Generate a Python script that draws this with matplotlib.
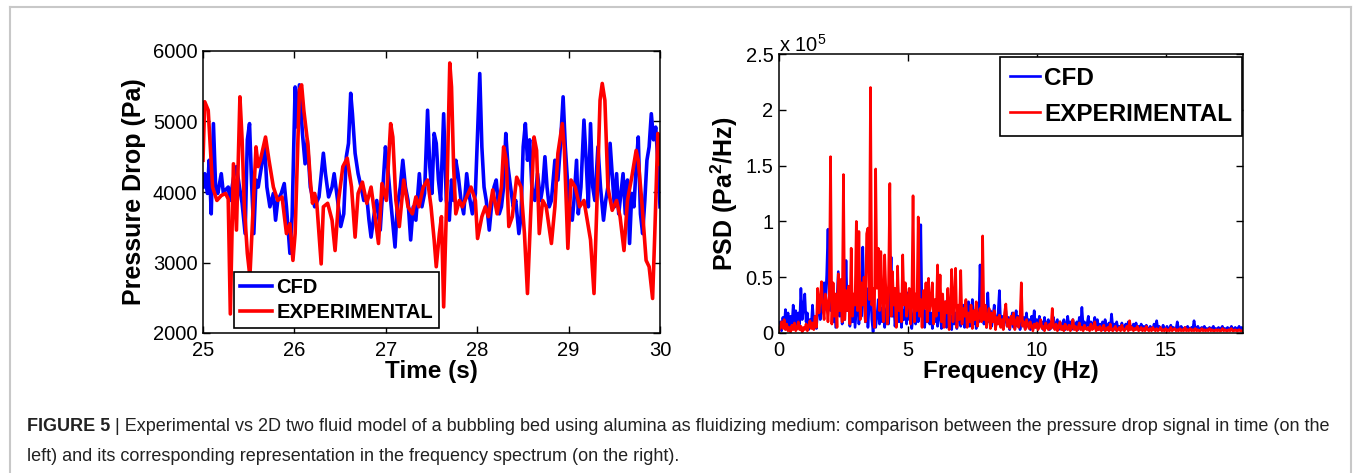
import numpy as np
import matplotlib
matplotlib.use("Agg")
import matplotlib.pyplot as plt
from matplotlib.lines import Line2D
from matplotlib.ticker import FuncFormatter

plt.rcParams['font.family'] = ['Liberation Sans', 'DejaVu Sans']
plt.rcParams['mathtext.fontset'] = 'custom'
plt.rcParams['mathtext.rm'] = 'Liberation Sans'
plt.rcParams['mathtext.bf'] = 'Liberation Sans:bold'

# pressure drop signal (time in s, value in Pa)
cfd_t = [25.000, 25.019, 25.048, 25.067, 25.090, 25.114, 25.138, 25.162, 25.200, 25.223,
         25.247, 25.276, 25.295, 25.342, 25.366, 25.399, 25.428, 25.461, 25.485, 25.509,
         25.532, 25.556, 25.580, 25.604, 25.627, 25.675, 25.699, 25.732, 25.770, 25.794,
         25.818, 25.856, 25.889, 25.913, 25.951, 25.975, 26.008, 26.032, 26.055, 26.088,
         26.117, 26.141, 26.174, 26.222, 26.269, 26.317, 26.340, 26.374, 26.412, 26.435,
         26.473, 26.507, 26.540, 26.568, 26.592, 26.616, 26.635, 26.664, 26.697, 26.730,
         26.759, 26.792, 26.816, 26.839, 26.873, 26.901, 26.939, 26.968, 26.996, 27.020,
         27.053, 27.101, 27.125, 27.158, 27.186, 27.215, 27.243, 27.272, 27.300, 27.329,
         27.367, 27.395, 27.424, 27.457, 27.481, 27.505, 27.529, 27.552, 27.576, 27.600,
         27.633, 27.662, 27.695, 27.719, 27.742, 27.766, 27.790, 27.823, 27.852, 27.885,
         27.909, 27.947, 27.980, 28.004, 28.028, 28.051, 28.075, 28.099, 28.132, 28.156,
         28.184, 28.208, 28.241, 28.265, 28.289, 28.313, 28.337, 28.365, 28.394, 28.422,
         28.456, 28.479, 28.503, 28.527, 28.550, 28.574, 28.598, 28.631, 28.660, 28.693,
         28.717, 28.741, 28.764, 28.788, 28.812, 28.850, 28.883, 28.907, 28.940, 28.964,
         28.992, 29.011, 29.040, 29.059, 29.087, 29.106, 29.135, 29.168, 29.192, 29.216,
         29.240, 29.264, 29.287, 29.321, 29.349, 29.382, 29.406, 29.430, 29.454, 29.477,
         29.501, 29.525, 29.548, 29.572, 29.596, 29.620, 29.644, 29.667, 29.691, 29.715,
         29.739, 29.762, 29.786, 29.810, 29.834, 29.857, 29.881, 29.905, 29.929, 29.953,
         29.976, 30.000]
cfd_p = [4070, 4260, 3980, 4450, 3690, 4970, 4070, 3980, 4260, 3980,
         4030, 4070, 3880, 4260, 4360, 4070, 3840, 3410, 4740, 4970,
         4120, 3410, 4170, 4070, 4260, 4640, 4070, 3790, 3980, 3600,
         3880, 3980, 4120, 3790, 3130, 3650, 5490, 4920, 5520, 4830,
         4400, 4740, 4070, 3790, 3930, 4550, 4260, 3930, 4070, 4260,
         3880, 3510, 3690, 4500, 4690, 5400, 5110, 4550, 4260, 4070,
         3880, 3930, 3600, 3360, 3690, 3880, 3460, 4070, 4640, 4360,
         3880, 3220, 3790, 4070, 4450, 4070, 3880, 3320, 3790, 3600,
         4260, 3790, 3980, 5160, 4360, 3980, 4830, 4690, 4170, 3880,
         5110, 3880, 3600, 4170, 3880, 4450, 4260, 3880, 3690, 4260,
         3980, 3690, 3980, 4830, 5680, 4640, 4070, 3880, 3460, 3790,
         4070, 4170, 3690, 3790, 4070, 4830, 4360, 4070, 3790, 3880,
         3410, 3650, 4640, 4970, 4450, 4740, 4070, 3880, 4260, 3880,
         4070, 4500, 4070, 3790, 3880, 4450, 4170, 4590, 5350, 4640,
         4070, 3790, 3600, 3880, 4450, 3690, 4070, 5020, 4450, 3790,
         4970, 4070, 3880, 4640, 4070, 3600, 3880, 4070, 4690, 4260,
         3790, 4260, 3690, 3980, 4260, 3690, 4170, 3270, 3980, 3790,
         4360, 4780, 3690, 3410, 3880, 4450, 4640, 5110, 4740, 4920,
         4450, 3790]

exp_t = [25.000, 25.019, 25.057, 25.105, 25.152, 25.200, 25.247, 25.276, 25.299, 25.333,
         25.366, 25.404, 25.428, 25.452, 25.485, 25.513, 25.580, 25.604, 25.627, 25.684,
         25.722, 25.770, 25.818, 25.865, 25.913, 25.951, 25.984, 26.008, 26.055, 26.079,
         26.103, 26.150, 26.174, 26.198, 26.222, 26.245, 26.293, 26.317, 26.364, 26.412,
         26.445, 26.483, 26.530, 26.578, 26.625, 26.664, 26.697, 26.744, 26.792, 26.839,
         26.873, 26.920, 26.958, 27.006, 27.053, 27.077, 27.110, 27.148, 27.196, 27.243,
         27.291, 27.329, 27.362, 27.410, 27.457, 27.495, 27.529, 27.552, 27.586, 27.609,
         27.633, 27.671, 27.700, 27.719, 27.742, 27.766, 27.804, 27.837, 27.885, 27.932,
         27.980, 28.004, 28.051, 28.089, 28.123, 28.170, 28.218, 28.265, 28.289, 28.318,
         28.346, 28.384, 28.432, 28.479, 28.517, 28.550, 28.584, 28.622, 28.650, 28.679,
         28.717, 28.755, 28.812, 28.850, 28.883, 28.931, 28.954, 28.992, 29.026, 29.073,
         29.121, 29.168, 29.240, 29.278, 29.311, 29.344, 29.368, 29.397, 29.430, 29.477,
         29.525, 29.563, 29.606, 29.644, 29.691, 29.739, 29.762, 29.800, 29.848, 29.881,
         29.919, 29.943, 29.976, 30.000]
exp_p = [4450, 5280, 5160, 4070, 3880, 3950, 3980, 3900, 2270, 4400,
         3460, 5350, 4740, 3790, 3130, 2800, 4640, 4360, 4450, 4780,
         4450, 4070, 3880, 3930, 3410, 3550, 3030, 3410, 5450, 5520,
         5160, 4640, 4170, 3840, 3980, 3840, 2980, 3790, 3840, 3600,
         3170, 3880, 4360, 4480, 4070, 3360, 3980, 4140, 3840, 4070,
         3740, 3270, 4120, 3880, 4970, 4780, 3880, 3510, 4170, 3790,
         3690, 3930, 3790, 4070, 4170, 3790, 3320, 2940, 3410, 3650,
         2370, 4120, 5830, 5490, 4360, 3690, 3880, 3790, 3930, 4070,
         3880, 3340, 3650, 3790, 3650, 4030, 3690, 4070, 4640, 4450,
         3510, 3650, 4210, 4070, 3410, 2560, 3650, 4780, 4590, 3410,
         3880, 3790, 3270, 3790, 4550, 4970, 4590, 3200, 4170, 4070,
         3790, 3880, 3320, 2560, 3880, 5300, 5540, 5300, 4070, 3740,
         3880, 3650, 3170, 3880, 4210, 4590, 4450, 3880, 3030, 2940,
         2490, 3410, 4830, 4400]

# power spectral density, 0.05 Hz bins from 0 to 18 Hz, in 1000 Pa^2/Hz
freq = np.arange(361) * 0.05
cfd_psd = [3, 10, 2, 14, 5, 21, 8, 18, 3, 15, 6, 25, 10, 20, 4, 18, 8, 40, 12, 22,
           35, 10, 18, 3, 12, 6, 25, 8, 15, 4, 20, 30, 12, 38, 20, 45, 25, 52, 93, 30,
           20, 40, 10, 35, 5, 30, 55, 15, 38, 8, 30, 12, 65, 20, 35, 6, 25, 10, 30, 5,
           20, 35, 8, 28, 15, 77, 30, 10, 40, 5, 25, 59, 12, 1, 20, 5, 15, 30, 8, 22,
           10, 35, 5, 18, 25, 8, 30, 68, 15, 28, 6, 20, 47, 10, 30, 5, 20, 12, 35, 8,
           36, 12, 22, 4, 15, 25, 8, 30, 10, 20, 97, 15, 28, 5, 20, 10, 32, 8, 18, 4,
           22, 10, 30, 6, 15, 25, 4, 18, 12, 28, 5, 20, 10, 15, 3, 22, 8, 18, 4, 14,
           20, 6, 15, 25, 5, 18, 10, 28, 6, 15, 30, 8, 20, 4, 15, 10, 61, 12, 20, 8,
           15, 5, 36, 10, 20, 6, 15, 25, 5, 12, 18, 38, 8, 15, 4, 12, 20, 6, 14, 3,
           10, 18, 5, 12, 20, 6, 15, 3, 10, 8, 14, 4, 18, 6, 12, 3, 15, 8, 20, 5,
           12, 4, 15, 6, 10, 3, 14, 5, 8, 12, 3, 10, 5, 14, 4, 8, 12, 3, 10, 6,
           4, 12, 3, 8, 15, 5, 10, 3, 12, 6, 4, 10, 3, 14, 5, 23, 6, 10, 4, 8,
           15, 3, 10, 5, 8, 14, 4, 12, 3, 8, 5, 10, 3, 12, 6, 4, 9, 3, 17, 5,
           8, 3, 10, 4, 6, 3, 9, 5, 3, 8, 4, 10, 3, 6, 4, 8, 3, 9, 4, 6,
           3, 8, 4, 6, 3, 7, 4, 3, 6, 4, 3, 8, 4, 11, 3, 6, 4, 3, 7, 4,
           3, 6, 4, 3, 7, 3, 5, 4, 3, 10, 4, 3, 6, 4, 3, 5, 3, 6, 4, 3,
           5, 3, 11, 4, 3, 6, 3, 4, 5, 3, 6, 3, 4, 3, 5, 3, 4, 6, 3, 4,
           3, 5, 3, 4, 6, 3, 4, 3, 5, 4, 3, 6, 3, 4, 5, 3, 4, 6, 3, 5,
           4]
exp_psd = [2, 6, 10, 4, 12, 3, 8, 2, 5, 1, 7, 3, 9, 2, 4, 10, 3, 6, 1, 5,
           3, 8, 2, 6, 11, 4, 9, 3, 15, 5, 40, 18, 30, 46, 22, 12, 35, 28, 10, 33,
           158, 8, 45, 15, 35, 5, 53, 20, 48, 10, 142, 12, 38, 20, 42, 8, 76, 15, 35, 25,
           100, 20, 91, 12, 45, 25, 50, 10, 89, 94, 30, 220, 25, 40, 5, 147, 40, 76, 20, 73,
           30, 10, 70, 35, 8, 45, 134, 15, 55, 25, 40, 5, 60, 20, 35, 10, 70, 25, 45, 15,
           30, 40, 8, 25, 123, 10, 35, 20, 104, 15, 30, 5, 38, 22, 45, 10, 49, 20, 28, 45,
           8, 30, 15, 61, 20, 52, 10, 35, 5, 28, 18, 40, 3, 22, 57, 10, 30, 58, 5, 25,
           12, 56, 8, 22, 15, 30, 5, 18, 10, 25, 4, 20, 12, 28, 6, 15, 22, 10, 87, 12,
           25, 5, 15, 22, 4, 18, 10, 20, 3, 14, 8, 16, 5, 12, 3, 18, 26, 6, 12, 4,
           15, 8, 18, 3, 10, 14, 5, 12, 45, 6, 10, 3, 12, 8, 4, 10, 6, 2, 8, 5,
           9, 3, 7, 12, 4, 6, 2, 9, 5, 3, 8, 4, 22, 6, 3, 8, 2, 5, 10, 3,
           6, 2, 8, 4, 3, 7, 2, 5, 12, 3, 6, 2, 4, 9, 3, 5, 2, 7, 4, 3,
           5, 2, 8, 3, 4, 10, 2, 5, 3, 6, 2, 4, 7, 2, 3, 5, 2, 8, 3, 2,
           4, 6, 2, 3, 5, 2, 7, 3, 2, 4, 6, 2, 11, 3, 5, 2, 4, 3, 6, 2,
           3, 5, 2, 4, 2, 6, 3, 2, 4, 2, 5, 3, 2, 4, 2, 3, 5, 2, 3, 2,
           4, 2, 3, 2, 5, 2, 3, 4, 2, 3, 2, 4, 2, 3, 2, 5, 2, 3, 2, 4,
           2, 3, 2, 4, 2, 3, 2, 2, 4, 2, 3, 2, 3, 2, 4, 2, 3, 2, 2, 3,
           2, 3, 2, 2, 4, 2, 3, 2, 2, 3, 2, 4, 2, 2, 3, 2, 2, 3, 2, 2,
           2]

W, H = 1354, 473
fig = plt.figure(figsize=(W / 100, H / 100), dpi=100)

# light gray frame round the figure (left, top, right)
for xs, ys in [([10, 10], [7, H]), ([10, 1351], [7, 7]), ([1351, 1351], [7, H])]:
    fig.add_artist(Line2D([x / W for x in xs], [1 - y / H for y in ys],
                          color='#c8c8c8', lw=1.5))

def style_axes(ax):
    ax.tick_params(direction='in', top=True, right=True, length=5, width=1,
                   labelsize=14.5)
    ax.tick_params(axis='x', pad=6)
    ax.tick_params(axis='y', pad=4)
    for s in ax.spines.values():
        s.set_linewidth(1.1)

# left: pressure drop in time
ax1 = fig.add_axes([203 / W, 1 - 333 / H, 457 / W, 282 / H])
ax1.plot(cfd_t, cfd_p, color='#0000ff', lw=2.6, label='CFD')
ax1.plot(exp_t, exp_p, color='#ff0000', lw=2.6, label='EXPERIMENTAL')
ax1.set_xlim(25, 30)
ax1.set_ylim(2000, 6000)
ax1.set_yticks([2000, 3000, 4000, 5000, 6000])
style_axes(ax1)
ax1.set_xlabel('Time (s)', fontsize=17.5, fontweight='bold', labelpad=0)
ax1.set_ylabel('Pressure Drop (Pa)', fontsize=18, fontweight='bold', labelpad=5)
leg1 = ax1.legend(loc='lower left', bbox_to_anchor=(0.068, 0.018),
                  prop={'weight': 'bold', 'size': 14.5}, handlelength=1.6,
                  handletextpad=0.2, borderpad=0.3, labelspacing=0.3,
                  borderaxespad=0, fancybox=False, framealpha=1)
leg1.get_frame().set_edgecolor('black')
leg1.get_frame().set_linewidth(1.2)

# right: frequency spectrum
ax2 = fig.add_axes([779 / W, 1 - 333 / H, 464 / W, 279 / H])
ax2.plot(freq, np.array(cfd_psd) / 100, color='#0000ff', lw=1.9, label='CFD')
ax2.plot(freq, np.array(exp_psd) / 100, color='#ff0000', lw=1.9, label='EXPERIMENTAL')
ax2.set_xlim(0, 18)
ax2.set_ylim(0, 2.5)
ax2.set_xticks([0, 5, 10, 15])
ax2.set_yticks([0, 0.5, 1, 1.5, 2, 2.5])
ax2.yaxis.set_major_formatter(FuncFormatter(lambda v, p: ('%g' % v)))
style_axes(ax2)
ax2.set_xlabel('Frequency (Hz)', fontsize=17.5, fontweight='bold', labelpad=0)
ax2.set_ylabel(r'PSD (Pa$^\mathbf{2}$/Hz)', fontsize=18, fontweight='bold', labelpad=4)
ax2.text(0.0, 0.995, r'x 10$^5$', transform=ax2.transAxes, fontsize=14.5,
         ha='left', va='bottom')
leg2 = ax2.legend(loc='upper right', bbox_to_anchor=(0.997, 0.99),
                  prop={'weight': 'bold', 'size': 17.5}, handlelength=1.25,
                  handletextpad=0.15, borderpad=0.4, labelspacing=0.55,
                  borderaxespad=0, fancybox=False, framealpha=1)
leg2.get_frame().set_edgecolor('black')
leg2.get_frame().set_linewidth(1.2)

# caption
cap = fig.text(27 / W, 1 - 426 / H, 'FIGURE 5', fontsize=13, fontweight='bold',
               va='center', ha='left', color='#222222')
fig.canvas.draw()
fig.add_artist(plt.Annotation(
    ' | Experimental vs 2D two fluid model of a bubbling bed using alumina as fluidizing '
    'medium: comparison between the pressure drop signal in time (on the',
    xy=(1, 0.5), xycoords=cap, va='center', ha='left', fontsize=13, color='#222222'))
fig.text(27 / W, 1 - 456 / H,
         'left) and its corresponding representation in the frequency spectrum (on the right).',
         fontsize=13, va='center', ha='left', color='#222222')

fig.savefig('out.png', dpi=100)
